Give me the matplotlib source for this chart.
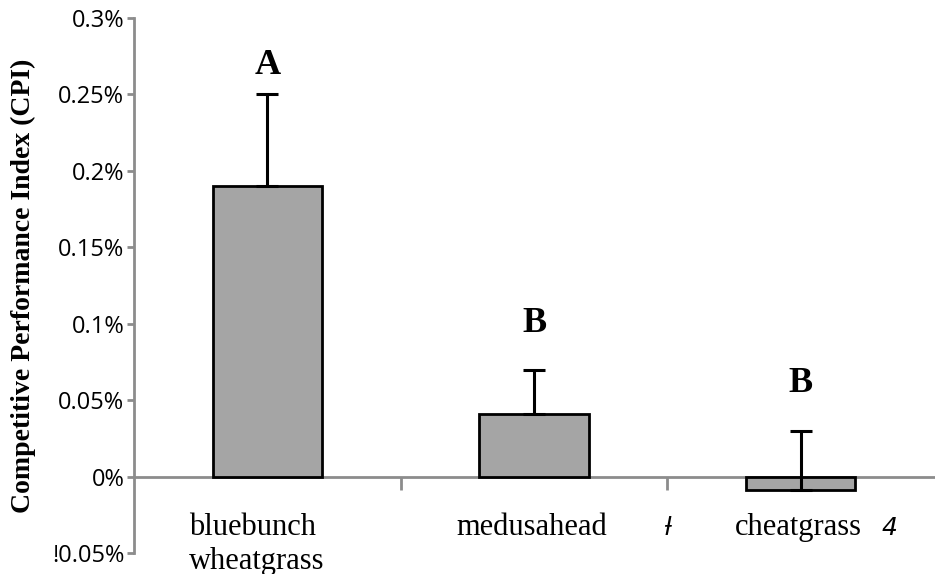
import matplotlib.pyplot as plt
import numpy as np

# species and CPI values (in %)
species = ['bluebunch\nwheatgrass', 'medusahead', 'cheatgrass']
cpi = [0.19, 0.041, -0.009]
cpi_err = [0.06, 0.029, 0.039]
letters = ['A', 'B', 'B']
letter_y = [0.269, 0.100, 0.061]
marks = ['', 'ƚ', '4']

yticks = [-0.05, 0, 0.05, 0.1, 0.15, 0.2, 0.25, 0.3]
ytick_labels = ['!0.05%', '0%', '0.05%', '0.1%', '0.15%', '0.2%', '0.25%', '0.3%']

fig = plt.figure(figsize=(9.35, 5.74), dpi=100)
ax = fig.add_axes([0.1433, 0.0366, 0.8557, 0.932])

x = np.arange(len(species))
ax.bar(x, cpi, width=0.41, color='#a5a5a5', edgecolor='black', linewidth=2, zorder=2)
# only upper error bars
ax.errorbar(x, cpi, yerr=[np.zeros(len(x)), cpi_err], fmt='none', ecolor='black',
            elinewidth=2.2, capsize=8, capthick=2.2, zorder=3)

for i in range(len(x)):
    ax.text(x[i], letter_y[i], letters[i], ha='center', va='center',
            fontsize=26, fontweight='bold', family='Liberation Serif')

ax.set_xlim(-0.5, 2.5)
ax.set_ylim(-0.05, 0.3)

# spines
for s in ['top', 'right']:
    ax.spines[s].set_visible(False)
ax.spines['left'].set_color('#8c8c8c')
ax.spines['left'].set_linewidth(2)
ax.spines['bottom'].set_position(('data', 0))
ax.spines['bottom'].set_color('#8c8c8c')
ax.spines['bottom'].set_linewidth(2)
ax.spines['bottom'].set_zorder(1)

ax.set_yticks(yticks)
ax.set_yticklabels(ytick_labels, family='Open Sans', fontsize=17)
ax.tick_params(axis='y', direction='out', length=5, width=2, color='#8c8c8c', pad=2)

ax.set_xticks([0.5, 1.5])
ax.set_xticklabels(['', ''])
ax.tick_params(axis='x', direction='out', length=9, width=2, color='#8c8c8c')

# category labels below the zero line
label_x = [-0.04, -0.01, -0.01]
for i in range(len(species)):
    ax.text(x[i] + label_x[i], -0.024, species[i], ha='center', va='top', fontsize=22,
            family='Liberation Serif', linespacing=1.2, multialignment='left')
mark_x = [0, 0.5, 0.333]
for i in range(1, len(species)):
    ax.text(x[i] + mark_x[i], -0.026, marks[i], ha='center', va='top', fontsize=18,
            family='DejaVu Sans', style='italic')

ax.set_ylabel('Competitive Performance Index (CPI)', family='Liberation Serif',
              fontweight='bold', fontsize=20)
ax.yaxis.set_label_coords(-0.122, 0.5)

fig.savefig('out.png', dpi=100)
